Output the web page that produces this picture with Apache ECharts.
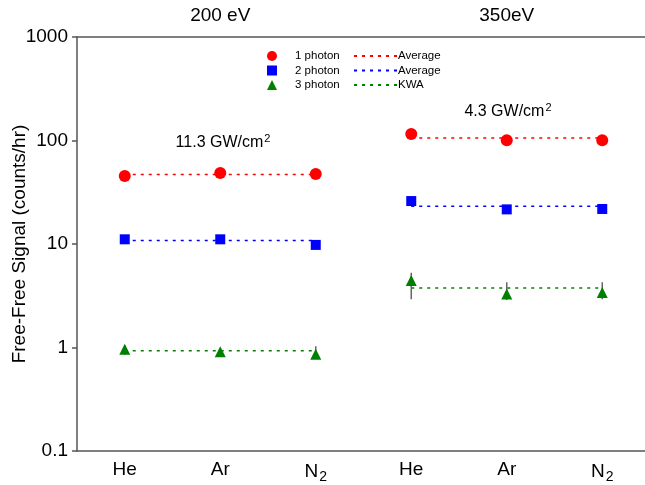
<!DOCTYPE html>
<html><head><meta charset="utf-8">
<script src="https://cdn.jsdelivr.net/npm/echarts@6/dist/echarts.min.js"></script>
<style>html,body{margin:0;padding:0;background:#fff}#c{width:645px;height:485px}</style>
</head><body><div id="c"></div>
<script>
var categories = ['He', 'Ar', 'N2', 'He', 'Ar', 'N2'];
var groups = ['200 eV', '350eV'];
var photon1 = [45.5, 48.5, 47.5, 115.6, 100.4, 100.4];
var photon2 = [11.1, 11.1, 9.8, 26.0, 21.6, 21.8];
var photon3 = [0.96, 0.91, 0.86, 4.43, 3.29, 3.39];
var err3Low = [0.85, 0.84, 0.80, 2.92, 2.88, 2.92];
var err3High = [1.05, 0.98, 1.03, 5.28, 4.26, 4.27];
var avg1 = [47, 105.7];
var avg2 = [10.8, 23.1];
var kwa3 = [0.93, 3.76];

var FONT = '"Liberation Sans", Arial, sans-serif';
var RED = '#ff0000', BLUE = '#0000ff', GREEN = '#008000', AX = '#555555';

function groupLine(name, vals, color) {
  var out = [];
  vals.forEach(function (v, g) {
    out.push({
      name: name, type: 'line', xAxisIndex: 0, symbol: 'circle', showSymbol: false, silent: true, z: 2,
      lineStyle: { color: color, width: 1.5, type: [3, 5] },
      itemStyle: { color: color },
      data: [[g * 3, v], [g * 3 + 2, v]]
    });
  });
  return out;
}

var chart = echarts.init(document.getElementById('c'));
var series = [
  {
    name: 'err', type: 'custom', xAxisIndex: 0, z: 3, silent: true,
    renderItem: function (params, api) {
      var p1 = api.coord([api.value(0), api.value(1)]);
      var p2 = api.coord([api.value(0), api.value(2)]);
      return { type: 'line', shape: { x1: p1[0], y1: p1[1], x2: p2[0], y2: p2[1] },
        style: { stroke: '#666666', lineWidth: 1.5 } };
    },
    encode: { x: 0, y: [1, 2] },
    data: categories.map(function (c, i) { return [i, err3Low[i], err3High[i]]; })
  },
  { name: '1 photon', type: 'scatter', xAxisIndex: 0, symbol: 'circle', symbolSize: 12, z: 5,
    itemStyle: { color: RED, opacity: 1 }, data: photon1.map(function (v, i) { return [i, v]; }) },
  { name: '2 photon', type: 'scatter', xAxisIndex: 0, symbol: 'rect', symbolSize: 10, z: 5,
    itemStyle: { color: BLUE, opacity: 1 }, data: photon2.map(function (v, i) { return [i, v]; }) },
  { name: '3 photon', type: 'scatter', xAxisIndex: 0, symbol: 'triangle', symbolSize: 11, z: 5,
    itemStyle: { color: GREEN, opacity: 1 }, data: photon3.map(function (v, i) { return [i, v]; }) }
].concat(groupLine('Average', avg1, RED))
 .concat(groupLine('Average ', avg2, BLUE))
 .concat(groupLine('KWA', kwa3, GREEN));

chart.setOption({
  animation: false,
  backgroundColor: '#fff',
  textStyle: { fontFamily: FONT, color: '#000' },
  grid: { left: 77, right: -5, top: 37, bottom: 34, outerBoundsMode: 'none', containLabel: false },
  legend: [
    { data: ['1 photon', '2 photon', '3 photon'], orient: 'vertical', left: 262, top: 45,
      itemWidth: 10, itemHeight: 10, itemGap: 2.5, selectedMode: false,
      itemStyle: { opacity: 1 },
      textStyle: { fontFamily: FONT, fontSize: 11.5, color: '#000', padding: [0, 0, 0, 13] } },
    { data: ['Average', 'Average ', 'KWA'], orient: 'vertical', left: 348, top: 45,
      itemWidth: 43, itemHeight: 10, itemGap: 2.5, selectedMode: false,
      itemStyle: { color: 'transparent', borderColor: 'transparent', borderWidth: 0 },
      textStyle: { fontFamily: FONT, fontSize: 11.5, color: '#000', padding: [0, 0, 0, -4] } }
  ],
  xAxis: [
    { type: 'category', data: categories, position: 'bottom', boundaryGap: true,
      axisLine: { lineStyle: { color: AX, width: 1.5 } }, axisTick: { show: false },
      axisLabel: { interval: 0, fontSize: 19, color: '#000', margin: 9, fontFamily: FONT,
        formatter: function (v) { return v === 'N2' ? '{n|N}{s|2}' : '{n|' + v + '}'; },
        rich: { n: { fontSize: 19, fontFamily: FONT, color: '#000' },
                s: { fontSize: 14, fontFamily: FONT, color: '#000', padding: [10, 0, 0, 1] } } },
      splitLine: { show: false } },
    { type: 'category', data: groups, position: 'top', boundaryGap: true,
      axisLine: { show: true, lineStyle: { color: AX, width: 1.5 } }, axisTick: { show: false },
      axisLabel: { interval: 0, fontSize: 19, color: '#000', margin: 12, fontFamily: FONT },
      splitLine: { show: false } }
  ],
  yAxis: {
    type: 'log', logBase: 10, min: 0.1, max: 1000,
    name: 'Free-Free Signal (counts/hr)', nameLocation: 'middle', nameGap: 48, nameMoveOverlap: false,
    nameTextStyle: { fontSize: 19, color: '#000', fontFamily: FONT },
    axisLine: { show: true, lineStyle: { color: AX, width: 1.5 } },
    axisTick: { show: true, inside: false, length: 5, lineStyle: { color: AX, width: 1.5 } },
    minorTick: { show: false },
    axisLabel: { fontSize: 19, color: '#000', margin: 9, fontFamily: FONT,
      formatter: function (v) { return String(+(+v).toPrecision(3)); } },
    splitLine: { show: false }
  },
  graphic: [
    { type: 'text', x: 223, y: 143, style: { text: '{a|11.3 GW/cm}{s|2}', align: 'center', verticalAlign: 'middle',
      rich: { a: { fontSize: 16, fontFamily: FONT, fill: '#000' }, s: { fontSize: 11, fontFamily: FONT, fill: '#000', padding: [0, 0, 8, 1] } } } },
    { type: 'text', x: 508, y: 112, style: { text: '{a|4.3 GW/cm}{s|2}', align: 'center', verticalAlign: 'middle',
      rich: { a: { fontSize: 16, fontFamily: FONT, fill: '#000' }, s: { fontSize: 11, fontFamily: FONT, fill: '#000', padding: [0, 0, 8, 1] } } } }
  ],
  series: series
});
</script></body></html>
